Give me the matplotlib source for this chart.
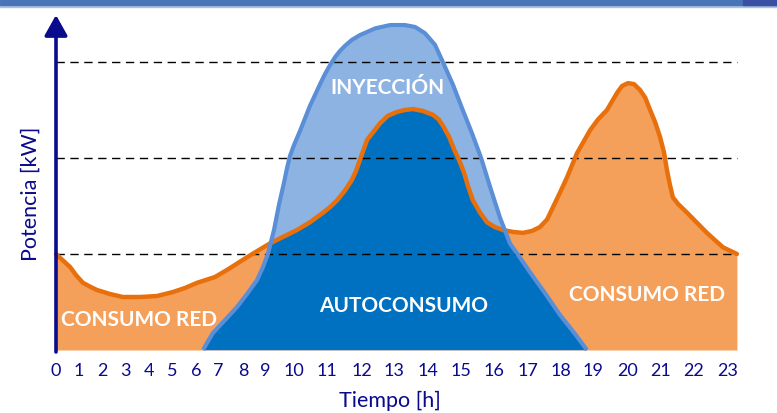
import numpy as np
import matplotlib
matplotlib.use("Agg")
import matplotlib.pyplot as plt
from matplotlib.patches import Rectangle

# hour axis labels
hours = list(range(24))

# consumo (orange curve), hours vs kW-level
cons_h = [0.0, 0.61, 0.87, 1.17, 1.48, 1.78, 2.35, 2.91, 3.63, 4.35, 5.04,
          5.54, 6.05, 6.86, 7.4, 8.0, 8.64, 9.17, 10.09, 10.48, 10.88,
          11.09, 11.29, 11.51, 11.71, 11.83, 11.94, 12.16, 12.56, 12.81,
          13.09, 13.32, 13.56, 13.85, 14.15, 14.33, 14.48, 14.64, 14.79,
          14.94, 15.09, 15.21, 15.36, 15.58, 15.79, 16.03, 16.26, 16.56,
          16.85, 17.12, 17.36, 17.58, 17.76, 17.97, 18.19, 18.5, 18.91,
          19.14, 19.4, 19.69, 19.83, 20.0, 20.18, 20.36, 20.52, 20.67,
          20.82, 20.97, 21.09, 21.18, 21.27, 21.36, 21.52, 21.79, 22.38,
          22.85, 23.27]
cons_kw = [1.0, 0.865, 0.78, 0.70, 0.66, 0.625, 0.583, 0.552, 0.552, 0.5625,
           0.604, 0.646, 0.70, 0.76, 0.84, 0.94, 1.03, 1.11, 1.25, 1.33,
           1.43, 1.49, 1.56, 1.66, 1.77, 1.865, 1.98, 2.19, 2.36, 2.44,
           2.48, 2.50, 2.51, 2.49, 2.45, 2.40, 2.32, 2.22, 2.09,
           1.98, 1.85, 1.71, 1.56, 1.43, 1.33, 1.28, 1.25, 1.23,
           1.22, 1.24, 1.28, 1.36, 1.49, 1.64, 1.80, 2.05, 2.29,
           2.40, 2.50, 2.68, 2.75, 2.78, 2.77, 2.71, 2.63, 2.50,
           2.375, 2.22, 2.06, 1.875, 1.72, 1.59, 1.52, 1.43, 1.22,
           1.07, 1.0]

# generacion FV (blue curve)
gen_h = [6.32, 6.55, 6.77, 7.28, 7.76, 8.18, 8.64, 8.91, 9.10, 9.31, 9.48,
         9.66, 9.76, 9.86, 10.0, 10.18, 10.48, 10.79, 10.94, 11.09, 11.23,
         11.37, 11.51, 11.71, 11.94, 12.41, 12.88, 13.32, 13.62, 13.91,
         14.21, 14.45, 14.76, 15.03, 15.33, 15.61, 15.88, 16.18, 16.47,
         16.71, 17.06, 17.52, 17.97, 18.44, 18.81]
gen_kw = [0.0, 0.094, 0.177, 0.3125, 0.448, 0.583, 0.729, 0.865, 1.0, 1.25,
          1.51, 1.75, 1.896, 2.02, 2.135, 2.28, 2.54, 2.77, 2.875, 2.97, 3.05,
          3.115, 3.167, 3.23, 3.28, 3.35, 3.385, 3.385, 3.365, 3.30,
          3.18, 3.0, 2.76, 2.52, 2.26, 2.0, 1.70, 1.375, 1.11,
          0.99, 0.81, 0.59, 0.365, 0.167, 0.0]

grid_levels = [1, 2, 3]

# layout: pixel centre of each hour label (labels are not evenly spaced)
TICK_PX = [56, 79, 102, 125, 149, 172, 196, 218, 243, 265, 294, 327, 362,
           394, 428, 461, 494, 528, 561, 593, 628, 661, 694, 728]
H_EXT = np.array([-5] + hours + [28], dtype=float)
P_EXT = np.array([56 - 5 * 23] + TICK_PX + [728 + 5 * 33], dtype=float)


def fwd(h):
    return np.interp(h, H_EXT, P_EXT)


def inv(p):
    return np.interp(p, P_EXT, H_EXT)


def lvl(py):
    # pixel row -> y units (axis at 350 px, 96 px per dashed step)
    return (350 - py) / 96


NAVY = '#0a0a8c'
ORANGE_FILL = '#f5a05a'
ORANGE_LINE = '#e8700c'
LIGHT_BLUE = '#8db3e2'
BLUE_LINE = '#5a8fd8'
DARK_BLUE = '#0070c0'

plt.rcParams['font.family'] = ['Lato', 'DejaVu Sans']

fig = plt.figure(figsize=(7.77, 4.13), dpi=100)
ax = fig.add_axes([0, 0, 1, 1])
ax.set_xscale('function', functions=(fwd, inv))
ax.set_xlim(inv(0), inv(777))
ax.set_ylim(lvl(413), lvl(0))
ax.axis('off')

# fills
orange = ax.fill_between(cons_h, cons_kw, 0, color=ORANGE_FILL, lw=0, zorder=1)
ax.fill_between(gen_h, gen_kw, 0, color=LIGHT_BLUE, lw=0, zorder=2)
auto = ax.fill_between(gen_h, gen_kw, 0, color=DARK_BLUE, lw=0, zorder=3)
auto.set_clip_path(orange.get_paths()[0], ax.transData)

# dashed reference lines
for g in grid_levels:
    ax.plot([0, cons_h[-1]], [g, g], color='black', lw=1,
            dashes=(6, 4), zorder=4)

ax.plot(cons_h, cons_kw, color=ORANGE_LINE, lw=3.2, solid_capstyle='round',
        solid_joinstyle='round', zorder=5)
ax.plot(gen_h, gen_kw, color=BLUE_LINE, lw=3, solid_capstyle='butt',
        solid_joinstyle='round', zorder=9)

# axes with arrows
arrow = dict(arrowstyle='-|>,head_length=1.25,head_width=0.7', lw=2.6,
             color=NAVY, shrinkA=0, shrinkB=0, mutation_scale=10)
ax.annotate('', xy=(0, lvl(15)), xytext=(0, lvl(352)),
            arrowprops=arrow, zorder=8)
ax.annotate('', xy=(inv(786), 0), xytext=(inv(53), 0),
            arrowprops=arrow, zorder=8)

# hour labels
for h in hours:
    ax.text(h, lvl(371), str(h), ha='center', va='center',
            fontsize=13, color=NAVY)

ax.text(inv(390), lvl(401), 'Tiempo [h]', ha='center', va='center',
        fontsize=15.5, color=NAVY)
ax.text(inv(31), lvl(194), 'Potencia [kW]', ha='center', va='center',
        rotation=90, fontsize=15.5, color=NAVY)

label_style = dict(ha='center', va='center', fontsize=15, color='white',
                   fontweight='bold', zorder=7)
ax.text(inv(387), lvl(88), 'INYECCIÓN', **label_style)
ax.text(inv(404), lvl(306), 'AUTOCONSUMO', **label_style)
ax.text(inv(139), lvl(320), 'CONSUMO RED', **label_style)
ax.text(inv(647), lvl(295), 'CONSUMO RED', **label_style)

# slide banner at the top
fig.patches.append(Rectangle((0, 1 - 7 / 413), 1, 2 / 413,
                             transform=fig.transFigure, color='#a9c3e0'))
fig.patches.append(Rectangle((0, 1 - 5 / 413), 1, 5 / 413,
                             transform=fig.transFigure, color='#4a74b8'))
fig.patches.append(Rectangle((743 / 777, 1 - 5 / 413), 34 / 777, 5 / 413,
                             transform=fig.transFigure, color='#3a50a2'))

fig.savefig('out.png', dpi=100)
